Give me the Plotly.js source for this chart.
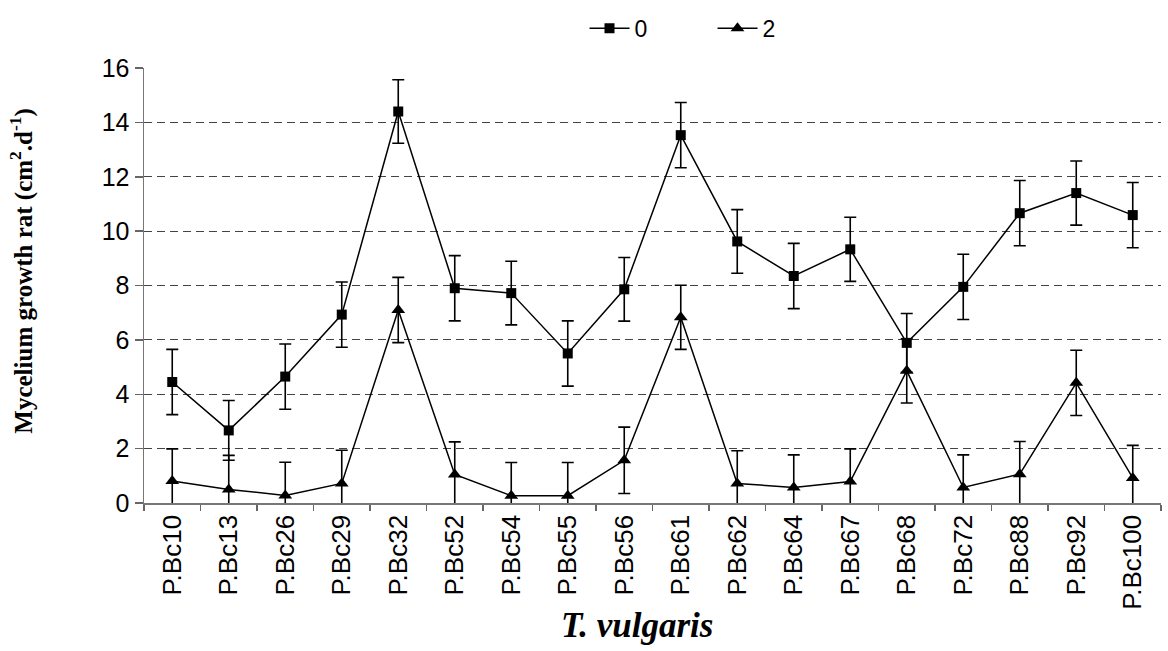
<!DOCTYPE html>
<html>
<head>
<meta charset="utf-8">
<script src="https://cdn.plot.ly/plotly-3.0.1.min.js"></script>
<style>html,body{margin:0;padding:0;background:#fff;}#chart{width:1168px;height:651px;}</style>
</head>
<body>
<div id="chart"></div>
<script>
const categories = ["P.Bc10","P.Bc13","P.Bc26","P.Bc29","P.Bc32","P.Bc52","P.Bc54","P.Bc55","P.Bc56","P.Bc61","P.Bc62","P.Bc64","P.Bc67","P.Bc68","P.Bc72","P.Bc88","P.Bc92","P.Bc100"];
const series0 = [4.45, 2.67, 4.65, 6.93, 14.4, 7.9, 7.72, 5.5, 7.86, 13.53, 9.62, 8.35, 9.33, 5.89, 7.95, 10.66, 11.4, 10.59];
const error0  = [1.2, 1.1, 1.2, 1.2, 1.17, 1.2, 1.17, 1.2, 1.17, 1.2, 1.17, 1.2, 1.18, 1.08, 1.2, 1.2, 1.18, 1.2];
const series2 = [0.81, 0.5, 0.28, 0.72, 7.1, 1.05, 0.27, 0.27, 1.57, 6.83, 0.72, 0.57, 0.79, 4.86, 0.57, 1.06, 4.42, 0.92];
const error2  = [1.18, 1.25, 1.22, 1.22, 1.2, 1.2, 1.22, 1.22, 1.22, 1.18, 1.2, 1.2, 1.2, 1.18, 1.2, 1.2, 1.2, 1.2];
const seriesNames = ["0", "2"];
const yTitle = "Mycelium growth rat (cm<sup>2</sup>.d<sup>-1</sup>)";
const xTitle = "<i>T. vulgaris</i>";

const errStyle = {type: 'data', visible: true, color: '#000', thickness: 1.6, width: 6};
const traces = [
  {x: categories, y: series0, name: seriesNames[0], type: 'scatter', mode: 'lines+markers',
   line: {color: '#000', width: 1.5}, marker: {symbol: 'square', size: 10, color: '#000'},
   error_y: Object.assign({array: error0}, errStyle)},
  {x: categories, y: series2, name: seriesNames[1], type: 'scatter', mode: 'lines+markers',
   line: {color: '#000', width: 1.5}, marker: {symbol: 'triangle-up', size: 12, color: '#000'},
   error_y: Object.assign({array: error2}, errStyle)}
];

const layout = {
  width: 1168, height: 651,
  margin: {l: 144, r: 7, t: 65, b: 148},
  paper_bgcolor: '#fff', plot_bgcolor: '#fff',
  font: {family: 'Liberation Sans, Arial, sans-serif', color: '#000'},
  showlegend: true,
  legend: {orientation: 'h', x: 0.559, xanchor: 'center', y: 1.091, yanchor: 'middle',
           font: {size: 23, family: 'Liberation Sans, Arial, sans-serif'}, itemwidth: 40,
           entrywidth: 73, entrywidthmode: 'pixels', tracegroupgap: 0},
  xaxis: {type: 'category', tickson: 'boundaries', ticks: 'outside', ticklen: 6, tickcolor: '#666', tickwidth: 1.5,
          tickangle: -90, tickfont: {size: 26}, showline: true, linecolor: '#777', linewidth: 1.5,
          showgrid: false, zeroline: false, range: [-0.5, 17.5], fixedrange: true},
  yaxis: {range: [0, 16], dtick: 2, ticks: 'outside', ticklen: 8, tickcolor: '#666', tickwidth: 1.5,
          tickfont: {size: 25}, showline: true, linecolor: '#777', linewidth: 1.5,
          showgrid: true, gridcolor: '#444', gridwidth: 1, griddash: '8px,5px', zeroline: false},
  annotations: [
    {text: yTitle, xref: 'paper', yref: 'paper', x: -0.12, y: 0.534, xanchor: 'center', yanchor: 'middle',
     textangle: -90, showarrow: false, font: {family: 'Liberation Serif, Times New Roman, serif', size: 25, color: '#000', weight: 'bold'}},
    {text: xTitle, xref: 'paper', yref: 'paper', x: 0.485, y: -0.281, xanchor: 'center', yanchor: 'middle',
     showarrow: false, font: {family: 'Liberation Serif, Times New Roman, serif', size: 35, color: '#000', weight: 'bold'}}
  ]
};

Plotly.newPlot('chart', traces, layout, {staticPlot: true, displayModeBar: false});
</script>
</body>
</html>
